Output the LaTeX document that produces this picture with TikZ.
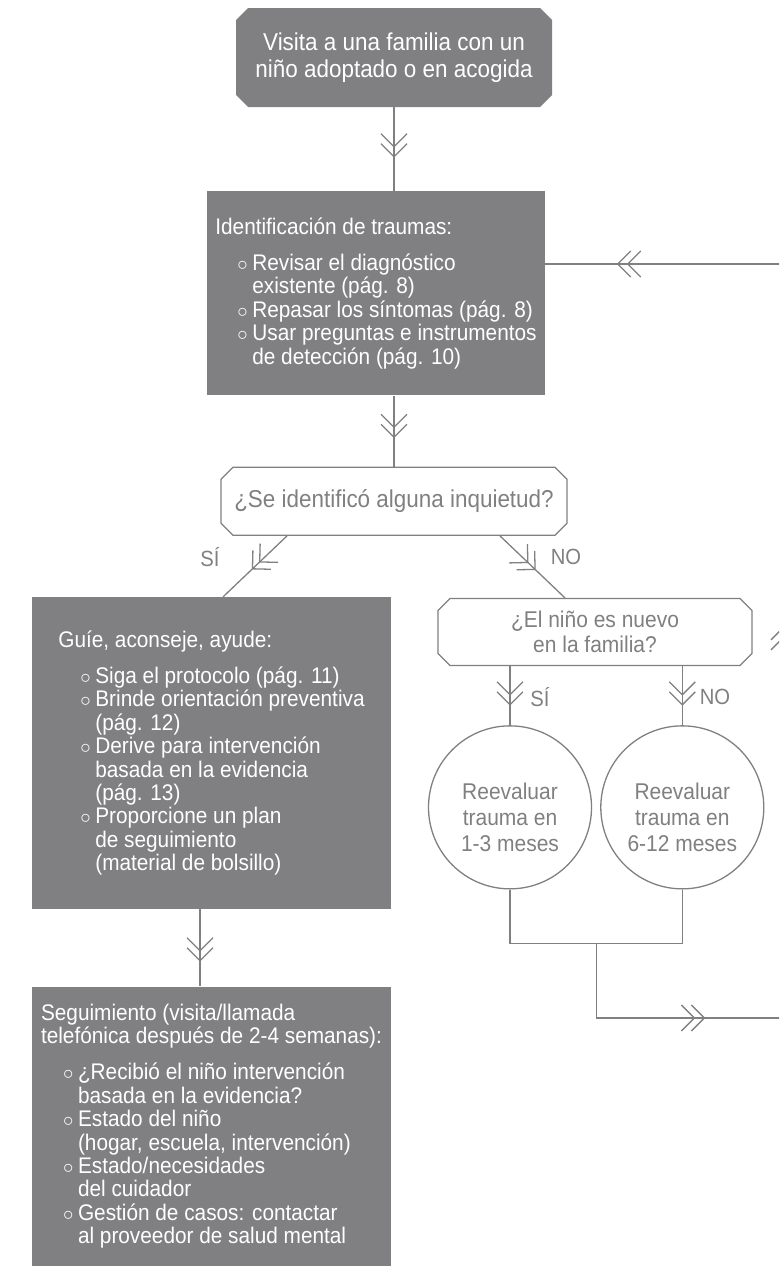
\documentclass[tikz,border=0pt]{standalone}
\usepackage{fontspec}
\setmainfont{Liberation Sans}[FakeStretch=0.92]
\usetikzlibrary{shapes.misc, arrows.meta, positioning, calc, decorations.markings}

\definecolor{boxgray}{HTML}{808082}
\definecolor{linegray}{HTML}{808080}

\newcommand{\itm}{\makebox[37pt][r]{$\circ$\hspace{4.5pt}}}
\newcommand{\ind}{\hspace*{37pt}}

\tikzstyle{startbox} = [chamfered rectangle, chamfered rectangle xsep=6pt, chamfered rectangle ysep=6pt, fill=boxgray, text=white, align=center, minimum width=316pt, minimum height=99pt, font=\fontsize{24.4}{27}\selectfont]
\tikzstyle{box} = [rectangle, fill=boxgray, text=white, align=left, font=\fontsize{22.6}{23.4}\selectfont]
\tikzstyle{question} = [chamfered rectangle, chamfered rectangle xsep=6pt, chamfered rectangle ysep=6pt, draw=linegray, line width=1.3pt, fill=white, text=linegray, align=center]
\tikzstyle{recheck} = [circle, draw=linegray, line width=1.3pt, text=linegray, align=center, minimum size=163pt, inner sep=0pt, font=\fontsize{22.8}{26}\selectfont]
\tikzstyle{answer} = [text=linegray, font=\fontsize{22}{24}\selectfont]
\tikzstyle{conn} = [draw=linegray, line width=1.3pt]
\tikzset{
    chev/.tip={Straight Barb[length=13pt,width=26pt]},
    flow/.style={conn, postaction={decorate}, decoration={markings, mark=at position #1 with {\arrow{chev}\pgftransformxshift{-10pt}\arrow{chev}}}},
    flow/.default=0.6
}

\begin{document}
\begin{tikzpicture}[x=1pt, y=1pt]
    \useasboundingbox (0,0) rectangle (779,-1266);
    \clip (0,0) rectangle (779,-1266);

        % Nodes
        \node (visit) [startbox] at (394,-57.5) {Visita a una familia con un\\niño adoptado o en acogida};
        \node (ident) [box, minimum width=338pt, minimum height=204pt, below=84pt of visit, xshift=-18pt] {Identificación de traumas:\\[12.6pt]
            \itm Revisar el diagnóstico\\
            \ind existente (pág. 8)\\
            \itm Repasar los síntomas (pág. 8)\\
            \itm Usar preguntas e instrumentos\\
            \ind de detección (pág. 10)};
        \node (ask) [question, minimum width=346pt, minimum height=68pt, font=\fontsize{24.4}{27}\selectfont, below=71pt of ident, xshift=18pt] {¿Se identificó alguna inquietud?};
        \node (guide) [box, minimum width=359pt, minimum height=312pt, below=61pt of ask, xshift=-182.5pt] {Guíe, aconseje, ayude:\\[12.6pt]
            \itm Siga el protocolo (pág. 11)\\
            \itm Brinde orientación preventiva\\
            \ind (pág. 12)\\
            \itm Derive para intervención\\
            \ind basada en la evidencia\\
            \ind (pág. 13)\\
            \itm Proporcione un plan\\
            \ind de seguimiento\\
            \ind (material de bolsillo)};
        \node (newkid) [question, minimum width=314pt, minimum height=67pt, font=\fontsize{22.8}{25}\selectfont, below=62pt of ask, xshift=201pt] {¿El niño es nuevo\\en la familia?};
        \node (reeval1) [recheck, below=59pt of newkid, xshift=-85pt] {\mbox{}\\[10pt]Reevaluar\\trauma en\\1-3 meses};
        \node (reeval2) [recheck, right=8pt of reeval1] {\mbox{}\\[10pt]Reevaluar\\trauma en\\6-12 meses};
        \node (follow) [box, minimum width=359pt, minimum height=279pt, below=77pt of guide] {Seguimiento (visita/llamada\\
            telefónica después de 2-4 semanas):\\[13pt]
            \itm ¿Recibió el niño intervención\\
            \ind basada en la evidencia?\\
            \itm Estado del niño\\
            \ind (hogar, escuela, intervención)\\
            \itm Estado/necesidades\\
            \ind del cuidador\\
            \itm Gestión de casos: contactar\\
            \ind al proveedor de salud mental};

        % Labels
        \node (yes1) [answer] at (210,-557) {SÍ};
        \node (no1) [answer] at (566,-557) {NO};
        \node (yes2) [answer] at (540,-697) {SÍ};
        \node (no2) [answer] at (715,-697) {NO};

        % Loop corners
        \coordinate (join) at ($(reeval1.south)!0.5!(reeval2.south)+(0,-54)$);
        \coordinate (loopB) at (784,-1018);
        \coordinate (loopA) at (join |- loopB);
        \coordinate (loopC) at (784,-264);

        % Arrows
        \draw [flow] (visit.south) -- (visit.south |- ident.north);
        \draw [flow] (ask.north |- ident.south) -- (ask.north);
        \draw [flow=0.55] ([xshift=-107pt]ask.south) -- ([xshift=11.5pt]guide.north);
        \draw [flow=0.55] ([xshift=106pt]ask.south) -- ([xshift=-30pt]newkid.north);
        \draw [flow=0.67] (reeval1.north |- newkid.south) -- (reeval1.north);
        \draw [flow=0.67] (reeval2.north |- newkid.south) -- (reeval2.north);
        \draw [flow=0.68] ([xshift=-11.5pt]guide.south) -- ([xshift=-11.5pt]follow.north);
        \draw [conn] (reeval1.south) |- (join) -| (reeval2.south);
        \draw [flow=0.7] (join) -- (loopA) -- (loopB);
        \draw [flow=0.52] (loopB) -- (loopC);
        \draw [flow=0.7] (loopC) -- (loopC -| ident.east);

\end{tikzpicture}
\end{document}
